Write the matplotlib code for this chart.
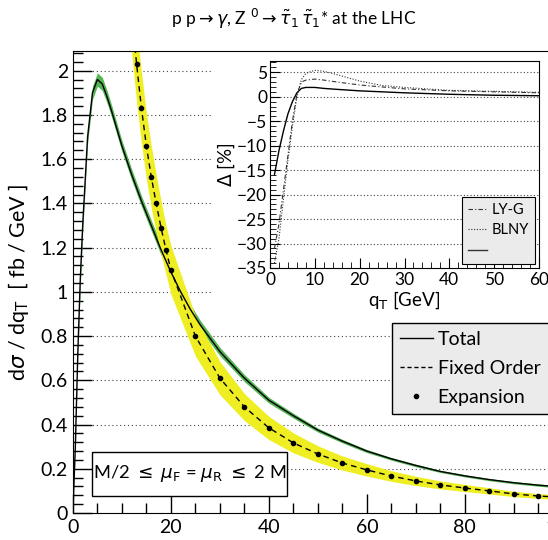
import numpy as np
import matplotlib.pyplot as plt
from matplotlib.patches import Rectangle
from matplotlib.lines import Line2D
from matplotlib.ticker import MultipleLocator, FormatStrFormatter

plt.rcParams['font.family'] = ['Lato', 'DejaVu Sans']
plt.rcParams['mathtext.fontset'] = 'dejavusans'

# ---- main panel data (q_T in GeV, dsigma/dq_T in fb/GeV)
qt_tot = [0, 0.5, 1, 1.5, 2, 3, 4, 5, 6, 7, 8, 10, 12, 14, 16, 18, 20, 22, 24, 26, 28, 30,
          35, 40, 45, 50, 55, 60, 65, 70, 75, 80, 85, 90, 95, 100, 105]
total = [0, 0.3, 0.72, 1.05, 1.3, 1.7, 1.9, 1.96, 1.94, 1.88, 1.81, 1.66, 1.53, 1.41, 1.30, 1.19,
         1.09, 1.0, 0.92, 0.85, 0.79, 0.73, 0.61, 0.51, 0.44, 0.375, 0.325, 0.28, 0.245, 0.215,
         0.188, 0.168, 0.151, 0.137, 0.126, 0.117, 0.108]
tot_err = [0, 0.012, 0.022, 0.028, 0.03, 0.03, 0.03, 0.03, 0.03, 0.028, 0.027, 0.025, 0.025,
           0.024, 0.024, 0.024, 0.023, 0.023, 0.022, 0.021, 0.02, 0.019, 0.016, 0.013, 0.011, 0.009,
           0.008, 0.007, 0.006, 0.006, 0.005, 0.005, 0.005, 0.005, 0.005, 0.005, 0.005]

qt_exp = [13, 14, 15, 16, 17, 18, 19, 20, 25, 30, 35, 40, 45, 50, 55, 60, 65, 70, 75, 80,
          85, 90, 95, 100]
expansion = [2.03, 1.83, 1.66, 1.52, 1.40, 1.29, 1.19, 1.10, 0.80, 0.61, 0.48, 0.385, 0.317,
             0.267, 0.226, 0.195, 0.167, 0.145, 0.127, 0.113, 0.10, 0.086, 0.077, 0.07]

qt_fo = [12, 13, 14, 15, 16, 17, 18, 19, 20, 25, 30, 35, 40, 45, 50, 55, 60, 65, 70, 75, 80,
         85, 90, 95, 100, 105]
fixed_order = [2.28, 2.03, 1.83, 1.66, 1.52, 1.40, 1.29, 1.19, 1.10, 0.80, 0.61, 0.48, 0.385,
               0.317, 0.267, 0.226, 0.195, 0.167, 0.145, 0.127, 0.113, 0.10, 0.086, 0.077,
               0.07, 0.064]
fo_lo = [2.08, 1.86, 1.67, 1.51, 1.38, 1.27, 1.17, 1.08, 0.99, 0.71, 0.535, 0.418, 0.332, 0.272,
         0.229, 0.194, 0.167, 0.143, 0.124, 0.109, 0.097, 0.086, 0.074, 0.066, 0.06, 0.055]
fo_hi = [2.48, 2.2, 1.99, 1.81, 1.66, 1.53, 1.41, 1.3, 1.21, 0.89, 0.685, 0.54, 0.437, 0.362,
         0.304, 0.258, 0.223, 0.191, 0.166, 0.145, 0.129, 0.114, 0.098, 0.088, 0.08, 0.073]

# ---- inset data (relative difference in %)
qt_in = [1, 2, 3, 4, 5, 6, 7, 8, 10, 12, 15, 20, 25, 30, 40, 50, 60]
d_total = [-15.9, -11, -7, -3.5, -1, 0.8, 1.7, 1.9, 1.9, 1.7, 1.5, 1.2, 1.0, 0.8, 0.5, 0.3, 0.2]
d_lyg = [-31, -26, -19, -12, -5, 0.5, 3.0, 3.4, 3.6, 3.4, 3.0, 2.4, 2.0, 1.6, 1.2, 1.0, 0.8]
d_blny = [-34, -29, -21, -13, -6, 0, 3.5, 4.8, 5.4, 5.2, 4.5, 3.2, 2.3, 1.9, 1.3, 1.1, 0.9]

green = '#55b555'
yellow = '#eeee22'

fig = plt.figure(figsize=(5.48, 5.40), dpi=100)
ax = fig.add_axes([0.133, 0.05, 0.894, 0.856])

ax.fill_between(qt_tot, np.array(total) - np.array(tot_err), np.array(total) + np.array(tot_err),
                color=green, lw=0, zorder=2)
ax.fill_between(qt_fo, fo_lo, fo_hi, color=yellow, lw=0, zorder=2)
ax.plot(qt_tot, total, color='black', lw=1.0, zorder=4)
ax.plot(qt_fo, fixed_order, color='black', lw=1.0, ls=(0, (4, 3)), zorder=4)
ax.plot(qt_exp, expansion, 'o', color='black', ms=3, zorder=5)

ax.set_xlim(0, 100)
ax.set_ylim(0, 2.09)
for yv in np.arange(0.2, 2.01, 0.2):
    ax.axhline(yv, color='#444444', lw=0.8, ls=(0, (1, 2.5)), zorder=1)

ax.xaxis.set_major_locator(MultipleLocator(20))
ax.xaxis.set_minor_locator(MultipleLocator(5))
ax.yaxis.set_major_locator(MultipleLocator(0.2))
ax.yaxis.set_minor_locator(MultipleLocator(0.04))
ax.yaxis.set_major_formatter(FormatStrFormatter('%g'))
ax.tick_params(which='both', direction='in', top=False, right=False, labelsize=14, width=1)
ax.tick_params(which='major', length=14)
ax.tick_params(which='minor', length=7)
ax.tick_params(axis='x', pad=4)
ax.set_ylabel(r'd$\sigma$ / dq$_\mathrm{T}$  [ fb / GeV ]', fontsize=15.5, labelpad=7)
ax.spines['right'].set_visible(False)

fig.text(0.535, 0.965, r'p p$\rightarrow\gamma$, Z $^0\rightarrow\tilde{\tau}_1\,\tilde{\tau}_1$* at the LHC',
         ha='center', va='center', fontsize=12.5)

# scale-variation box
fig.patches.append(Rectangle((92 / 548, 1 - 496 / 540), 195 / 548, 44 / 540, transform=fig.transFigure,
                             facecolor='white', edgecolor='black', lw=1, zorder=6))
fig.text(190 / 548, 1 - 474 / 540,
         r'M/2 $\leq$ $\mu_\mathrm{F}$ = $\mu_\mathrm{R}$ $\leq$ 2 M',
         ha='center', va='center', fontsize=13.2, zorder=7)

# main legend: the box runs past the right edge, as in the original
fig.patches.append(Rectangle((392 / 548, 1 - 414 / 540), 0.4, 91 / 540, transform=fig.transFigure,
                             facecolor='#ebebeb', edgecolor='black', lw=1, zorder=7))
handles = [Line2D([], [], color='black', lw=1),
           Line2D([], [], color='black', lw=1, ls=(0, (3, 2))),
           Line2D([], [], color='black', marker='o', ms=3, ls='none')]
leg = fig.legend(handles, ['Total', 'Fixed Order', 'Expansion'], loc='upper left',
                 bbox_to_anchor=(392 / 548, 1 - 323 / 540), bbox_transform=fig.transFigure,
                 fontsize=14, frameon=False, handlelength=1.7, handletextpad=0.25, borderpad=0.4,
                 labelspacing=0.62, borderaxespad=0)
leg.set_zorder(8)

# white pad behind the inset
fig.patches.append(Rectangle((213 / 548, 1 - 315 / 540), 1, (315 - 53) / 540, transform=fig.transFigure,
                             facecolor='white', edgecolor='none', zorder=5))

ins = fig.add_axes([270 / 548, 1 - 268 / 540, 269 / 548, 207 / 540])
ins.set_zorder(9)
ins.plot(qt_in, d_total, color='black', lw=1)
ins.plot(qt_in, d_lyg, color='#333333', lw=0.8, ls=(0, (4, 2, 1, 2)))
ins.plot(qt_in, d_blny, color='#333333', lw=0.8, ls=(0, (1, 1.5)))
ins.set_xlim(0, 60)
ins.set_ylim(-35, 7.3)
for yv in range(-30, 6, 5):
    ins.axhline(yv, color='#444444', lw=0.8, ls=(0, (1, 2)), zorder=0)
ins.xaxis.set_major_locator(MultipleLocator(10))
ins.xaxis.set_minor_locator(MultipleLocator(2))
ins.yaxis.set_major_locator(MultipleLocator(5))
ins.yaxis.set_minor_locator(MultipleLocator(1))
ins.tick_params(which='both', direction='in', top=False, right=False, labelsize=12.5)
ins.tick_params(which='major', length=7)
ins.tick_params(which='minor', length=4)
ins.tick_params(axis='y', pad=2)
ins.tick_params(axis='x', pad=3)
ins.set_xlabel(r'q$_\mathrm{T}$ [GeV]', fontsize=13.5, labelpad=1)
ins.set_ylabel(r'$\Delta$ [%]', fontsize=13.5, labelpad=0)

ih = [Line2D([], [], color='#333333', lw=0.8, ls=(0, (4, 2, 1, 2))),
      Line2D([], [], color='#333333', lw=0.8, ls=(0, (1, 1.5))),
      Line2D([], [], color='#333333', lw=1)]
ileg = ins.legend(ih, ['LY-G', 'BLNY', ' '], loc='lower right', fontsize=10.5, frameon=True,
                  fancybox=False, edgecolor='black', facecolor='#ebebeb', framealpha=1,
                  handlelength=1.3, handletextpad=0.3, borderpad=0.4, labelspacing=0.45,
                  borderaxespad=0.3)
ileg.get_frame().set_linewidth(0.8)

fig.savefig('out.png', dpi=100)
